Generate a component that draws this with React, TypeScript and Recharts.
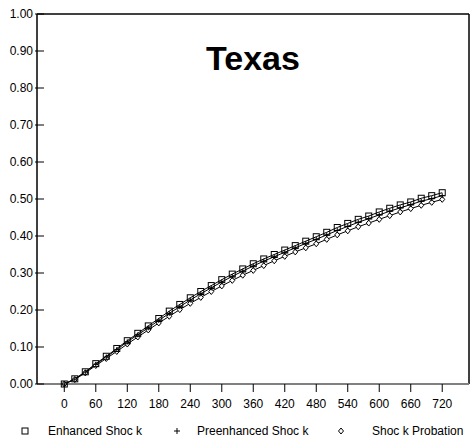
import React from 'react';
import { LineChart, Line, XAxis, YAxis, ReferenceLine, Legend, Customized } from 'recharts';

const days = [0,20,40,60,80,100,120,140,160,180,200,220,240,260,280,300,320,340,360,380,400,420,440,460,480,500,520,540,560,580,600,620,640,660,680,700,720];
const enhanced = [0,0.014,0.033,0.055,0.075,0.096,0.117,0.137,0.157,0.177,0.197,0.215,0.233,0.250,0.266,0.282,0.297,0.311,0.325,0.338,0.350,0.362,0.374,0.386,0.398,0.410,0.423,0.434,0.445,0.454,0.465,0.475,0.484,0.492,0.502,0.509,0.517];
const preenhanced = [0,0.013,0.032,0.053,0.073,0.093,0.114,0.133,0.152,0.172,0.191,0.209,0.227,0.244,0.260,0.276,0.291,0.305,0.319,0.332,0.344,0.356,0.368,0.380,0.391,0.403,0.415,0.426,0.437,0.447,0.457,0.467,0.476,0.485,0.494,0.501,0.509];
const probation = [0,0.012,0.030,0.050,0.069,0.088,0.108,0.127,0.146,0.165,0.183,0.201,0.218,0.234,0.250,0.265,0.280,0.294,0.307,0.320,0.333,0.345,0.357,0.368,0.379,0.391,0.403,0.414,0.425,0.435,0.445,0.455,0.465,0.474,0.483,0.491,0.499];
const xTicks = [0,60,120,180,240,300,360,420,480,540,600,660,720];
const yTicks = [0,0.1,0.2,0.3,0.4,0.5,0.6,0.7,0.8,0.9,1.0];
const seriesNames = ['Enhanced Shoc k', 'Preenhanced Shoc k', 'Shoc k Probation'];
const title = 'Texas';

const data = days.map((d, i) => ({ day: d, enhanced: enhanced[i], preenhanced: preenhanced[i], probation: probation[i] }));

const FONT = 'Arial, "Liberation Sans", sans-serif';

const SquareDot = (p: any) => {
  const { cx, cy } = p;
  if (cx == null || cy == null) return null;
  return <rect x={cx - 3} y={cy - 3} width={6} height={6} fill="none" stroke="#000" strokeWidth={1} />;
};
const PlusDot = (p: any) => {
  const { cx, cy } = p;
  if (cx == null || cy == null) return null;
  return <g stroke="#000" strokeWidth={1}><line x1={cx - 2.5} y1={cy} x2={cx + 2.5} y2={cy} /><line x1={cx} y1={cy - 2.5} x2={cx} y2={cy + 2.5} /></g>;
};
const DiamondDot = (p: any) => {
  const { cx, cy } = p;
  if (cx == null || cy == null) return null;
  return <polygon points={`${cx},${cy - 3} ${cx + 2.5},${cy} ${cx},${cy + 3} ${cx - 2.5},${cy}`} fill="#fff" stroke="#000" strokeWidth={1} />;
};

const XTick = (p: any) => {
  const { x, y, payload } = p;
  return (
    <g>
      <line x1={x} y1={y} x2={x} y2={y - 8} stroke="#000" strokeWidth={1} />
      <text x={x} y={y + 16} textAnchor="middle" fontFamily={FONT} fontSize={12} fill="#000">{payload.value}</text>
    </g>
  );
};
const YTick = (p: any) => {
  const { y, payload } = p;
  return (
    <g>
      <line x1={35} y1={y} x2={44} y2={y} stroke="#000" strokeWidth={1} />
      <text x={33} y={y + 4} textAnchor="end" fontFamily={FONT} fontSize={12} fill="#000">{Number(payload.value).toFixed(2)}</text>
    </g>
  );
};

const LegendContent = () => {
  const iconX = [25, 177, 341];
  const textX = [48, 197, 372];
  const y = 12;
  return (
    <svg width={470} height={18} style={{ display: 'block' }}>
      <rect x={iconX[0] - 3} y={y - 4} width={6} height={6} fill="none" stroke="#000" />
      <g stroke="#000"><line x1={iconX[1] - 3} y1={y - 1} x2={iconX[1] + 3} y2={y - 1} /><line x1={iconX[1]} y1={y - 4} x2={iconX[1]} y2={y + 2} /></g>
      <polygon points={`${iconX[2]},${y - 4} ${iconX[2] + 2.5},${y - 1} ${iconX[2]},${y + 2} ${iconX[2] - 2.5},${y - 1}`} fill="none" stroke="#000" />
      {seriesNames.map((n, i) => (
        <text key={n} x={textX[i]} y={y + 3} fontFamily={FONT} fontSize={12} fill="#000">{n}</text>
      ))}
    </svg>
  );
};

const Title = () => (
  <text x={253} y={70} textAnchor="middle" fontFamily={FONT} fontWeight="bold" fontSize={34} fill="#000">{title}</text>
);

export default function App() {
  return (
    <div style={{ position: 'absolute', left: 0, top: 0, width: 470, height: 438, background: '#fff' }}>
      <LineChart width={470} height={438} data={data} margin={{ top: 14, right: 1, left: 0, bottom: 0 }}>
        <XAxis dataKey="day" type="number" domain={[-52, 771]} ticks={xTicks} height={54}
          axisLine={{ stroke: '#808080', strokeWidth: 2 }} tickLine={false} tick={<XTick />} interval={0} allowDataOverflow />
        <YAxis type="number" domain={[0, 1]} ticks={yTicks} width={37}
          axisLine={{ stroke: '#000', strokeWidth: 1.5 }} tickLine={false} tick={<YTick />} interval={0} />
        <ReferenceLine y={1} stroke="#000" strokeWidth={1.5} />
        <ReferenceLine x={771} stroke="#000" strokeWidth={1.5} />
        <Line dataKey="probation" stroke="#000" strokeWidth={1} dot={<DiamondDot />} isAnimationActive={false} />
        <Line dataKey="preenhanced" stroke="#000" strokeWidth={1} dot={<PlusDot />} isAnimationActive={false} />
        <Line dataKey="enhanced" stroke="#000" strokeWidth={1} dot={<SquareDot />} isAnimationActive={false} />
        <Customized component={Title} />
        <Legend layout="horizontal" verticalAlign="middle" align="center" content={<LegendContent />}
          wrapperStyle={{ position: 'absolute', top: 420, left: 0, width: 470, margin: 0 }} />
      </LineChart>
    </div>
  );
}
